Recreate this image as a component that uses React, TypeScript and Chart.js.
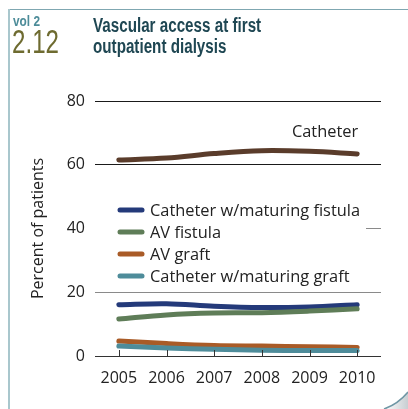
import React, { useEffect, useRef } from "react";
import { Chart, registerables } from "chart.js";

Chart.register(...registerables);

const years = ["2005", "2006", "2007", "2008", "2009", "2010"];
const catheter = [61.5, 62.1, 63.5, 64.4, 64.2, 63.4];
const catheterFistula = [16.1, 16.4, 15.6, 15.2, 15.4, 16.1];
const avFistula = [11.6, 12.9, 13.5, 13.6, 14.1, 14.8];
const avGraft = [4.7, 3.9, 3.3, 3.1, 2.9, 2.7];
const catheterGraft = [3.1, 2.5, 2.1, 1.8, 1.7, 1.7];
const yTicks = [0, 20, 40, 60, 80];

const FONT = "'Open Sans', sans-serif";
const HEAD = "'Liberation Sans', Arial, sans-serif";

export default function App() {
  const ref = useRef<HTMLCanvasElement | null>(null);

  useEffect(() => {
    const canvas = ref.current;
    if (!canvas) return;

    const annotate = {
      id: "annotate",
      afterDraw(chart: any) {
        const ctx = chart.ctx;
        const xs = chart.scales.x;
        const ys = chart.scales.y;
        const area = chart.chartArea;
        ctx.save();
        // x tick marks rising from the baseline
        ctx.strokeStyle = "#333";
        ctx.lineWidth = 1;
        years.forEach((_, i) => {
          const x = Math.round(xs.getPixelForValue(i)) + 0.5;
          ctx.beginPath();
          ctx.moveTo(x, area.bottom);
          ctx.lineTo(x, area.bottom - 6);
          ctx.stroke();
        });
        // legend box
        ctx.fillStyle = "#fff";
        ctx.fillRect(area.left - 6, 197, 366 - area.left + 6, 90);
        const items = chart.data.datasets.filter((d: any) => d.inLegend);
        items.sort((a: any, b: any) => a.legendRank - b.legendRank);
        ctx.font = "16.4px " + FONT;
        ctx.textBaseline = "middle";
        items.forEach((d: any, i: number) => {
          const y = 210 + i * 22;
          ctx.strokeStyle = d.borderColor;
          ctx.lineWidth = 5;
          ctx.lineCap = "round";
          ctx.beginPath();
          ctx.moveTo(120, y);
          ctx.lineTo(142, y);
          ctx.stroke();
          ctx.fillStyle = "#222";
          ctx.fillText(d.label, 150, y + 1);
        });
        // catheter label near its line
        const cat = chart.data.datasets.find((d: any) => d.label === "Catheter");
        const last = cat.data.length - 1;
        ctx.textAlign = "right";
        ctx.fillStyle = "#222";
        ctx.fillText(cat.label, xs.getPixelForValue(last) + 1, ys.getPixelForValue(cat.data[last]) - 22);
        ctx.restore();
      },
    };

    const common = {
      borderWidth: 5,
      pointRadius: 0,
      borderCapStyle: "round",
      borderJoinStyle: "round",
      tension: 0.35,
      fill: false,
    };

    const chart = new Chart(canvas, {
      type: "line",
      data: {
        labels: years,
        datasets: [
          { ...common, label: "Catheter", data: catheter, borderColor: "#5a3c2b", order: 5, inLegend: false },
          { ...common, label: "Catheter w/maturing fistula", data: catheterFistula, borderColor: "#243a7a", order: 4, inLegend: true, legendRank: 0 },
          { ...common, label: "AV fistula", data: avFistula, borderColor: "#5f7d58", order: 3, inLegend: true, legendRank: 1 },
          { ...common, label: "AV graft", data: avGraft, borderColor: "#a95b27", order: 2, inLegend: true, legendRank: 2 },
          { ...common, label: "Catheter w/maturing graft", data: catheterGraft, borderColor: "#4e8c9a", order: 1, inLegend: true, legendRank: 3 },
        ] as any,
      },
      options: {
        responsive: false,
        animation: false,
        layout: { padding: { top: 101, left: 0, right: 27, bottom: 0 } },
        plugins: { legend: { display: false }, tooltip: { enabled: false }, title: { display: false } },
        scales: {
          x: {
            offset: true,
            grid: { display: false, drawTicks: false },
            border: { display: false },
            ticks: { font: { family: FONT, size: 16 }, color: "#222", padding: 13 },
            afterFit: (s: any) => { s.height = 53; },
          },
          y: {
            min: 0,
            max: 80,
            afterBuildTicks: (s: any) => { s.ticks = yTicks.map((v) => ({ value: v })); },
            grid: {
              drawTicks: false,
              lineWidth: 1,
              color: (c: any) => (c.tick && (c.tick.value === 80 || c.tick.value === 60) ? "#1a1a1a" : c.tick && c.tick.value === 0 ? "#333" : "#8a8a8a"),
            },
            border: { display: false },
            ticks: { font: { family: FONT, size: 16 }, color: "#222", padding: 10 },
            title: { display: true, text: "Percent of patients", font: { family: FONT, size: 16 }, color: "#222", padding: { top: 29, bottom: 0 } },
            afterFit: (s: any) => { s.width = 95; },
          },
        },
      } as any,
      plugins: [annotate],
    });
    return () => chart.destroy();
  }, []);

  return (
    <div style={{ position: "fixed", left: 0, top: 0, width: 408, height: 409, background: "#fff", overflow: "hidden" }}>
      <canvas ref={ref} width={408} height={409} style={{ position: "absolute", left: 0, top: 0, width: 408, height: 409 }} />
      <div style={{ position: "absolute", left: 8, top: 9, width: 400, height: 1, background: "#7fa7b1" }} />
      <div style={{ position: "absolute", left: 8, top: 9, width: 2, height: 400, background: "#a9c7cd" }} />
      <div style={{ position: "absolute", left: 13, top: 12, fontFamily: HEAD, fontWeight: 700, fontSize: 15, lineHeight: "17px", color: "#4d8c99", whiteSpace: "nowrap", transform: "scaleX(0.79)", transformOrigin: "left top" }}>vol 2</div>
      <div style={{ position: "absolute", left: 12, top: 23, fontFamily: HEAD, fontSize: 34, lineHeight: "36px", color: "#6e6b30", whiteSpace: "nowrap", transform: "scaleX(0.71)", transformOrigin: "left top" }}>2.12</div>
      <div style={{ position: "absolute", left: 93, top: 15, fontFamily: HEAD, fontWeight: 700, fontSize: 20, lineHeight: "20.5px", color: "#1f4753", whiteSpace: "nowrap", transform: "scaleX(0.76)", transformOrigin: "left top" }}>
        Vascular access at first<br />outpatient dialysis
      </div>
      <svg width={408} height={409} style={{ position: "absolute", left: 0, top: 0 }}>
        <defs>
          <linearGradient id="curl" x1="0" y1="0" x2="1" y2="0">
            <stop offset="0" stopColor="#ffffff" />
            <stop offset="1" stopColor="#c8ced2" />
          </linearGradient>
        </defs>
        <path d="M384 409 Q398 404 408 392 L408 409 Z" fill="url(#curl)" />
        <path d="M384 409 Q398 404 408 392" fill="none" stroke="#6f97a5" strokeWidth={1.5} />
      </svg>
    </div>
  );
}
